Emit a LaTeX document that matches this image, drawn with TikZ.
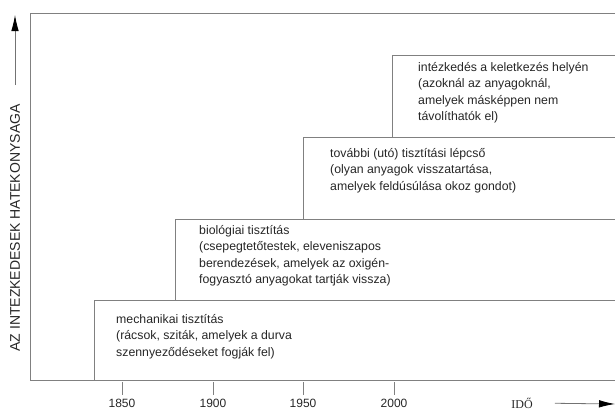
\documentclass[tikz,border=0pt]{standalone}
\usepackage{fontspec}
\setmainfont{Liberation Sans}
\newfontfamily\idofont{Liberation Serif}
\usetikzlibrary{arrows.meta}

\tikzset{
  stepline/.style={draw=black!50,line width=.8pt},
  steptext/.style={anchor=north west,inner sep=0pt,align=left,text=black!85,font=\fontsize{12.3}{16.5}\selectfont},
  yearlabel/.style={inner sep=0pt,text=black!85,font=\fontsize{12}{14}\selectfont},
  axisarrow/.style={draw=black!55,line width=.8pt,-{Latex[length=16pt,width=7.5pt,black]}},
}

\begin{document}
\begin{tikzpicture}[x=1pt,y=-1pt]
\useasboundingbox (0,0) rectangle (615,410);
\clip (0,0) rectangle (615,410);
% frame and steps
\draw[stepline] (640,13) -- (30,13) -- (30,380) -- (640,380);
\draw[stepline] (94,380) -- (94,300) -- (640,300);
\draw[stepline] (175,300) -- (175,219) -- (640,219);
\draw[stepline] (303,219) -- (303,137) -- (640,137);
\draw[stepline] (392,137) -- (392,55) -- (640,55);
% step texts
\node[steptext] (mech) at (116,314) {mechanikai tisztítás\\(rácsok, sziták, amelyek a durva\\szennyeződéseket fogják fel)};
\node[steptext] (bio) at (199,225) {biológiai tisztítás\\(csepegtetőtestek, eleveniszapos\\berendezések, amelyek az oxigén-\\fogyasztó anyagokat tartják vissza)};
\node[steptext] (post) at (330,148) {további (utó) tisztítási lépcső\\(olyan anyagok visszatartása,\\amelyek feldúsúlása okoz gondot)};
\node[steptext] (source) at (418,62) {intézkedés a keletkezés helyén\\(azoknál az anyagoknál,\\amelyek másképpen nem\\távolíthatók el)};
% time axis
\foreach \yr/\x in {1850/122,1900/213,1950/303,2000/394} {
  \draw[stepline] (\x,382) -- (\x,395);
  \node[yearlabel,anchor=north] (y\yr) at (\x,399) {\yr};
}
\node[inner sep=0pt,text=black!85,font=\idofont\fontsize{12}{14}\selectfont] (ido) at (522,403) {IDŐ};
\coordinate (xtip) at (615,404);
\draw[axisarrow,shorten <=22pt] (ido.east) -- (xtip);
% efficiency axis
\coordinate (ybase) at (15,85);
\coordinate (ytip) at (15,15);
\draw[axisarrow] (ybase) -- (ytip);
\node[rotate=90,inner sep=0pt,text=black!85,font=\fontsize{14}{16}\selectfont] (eff) at (15,228) {AZ INTEZKEDESEK HATEKONYSAGA};
\end{tikzpicture}
\end{document}
